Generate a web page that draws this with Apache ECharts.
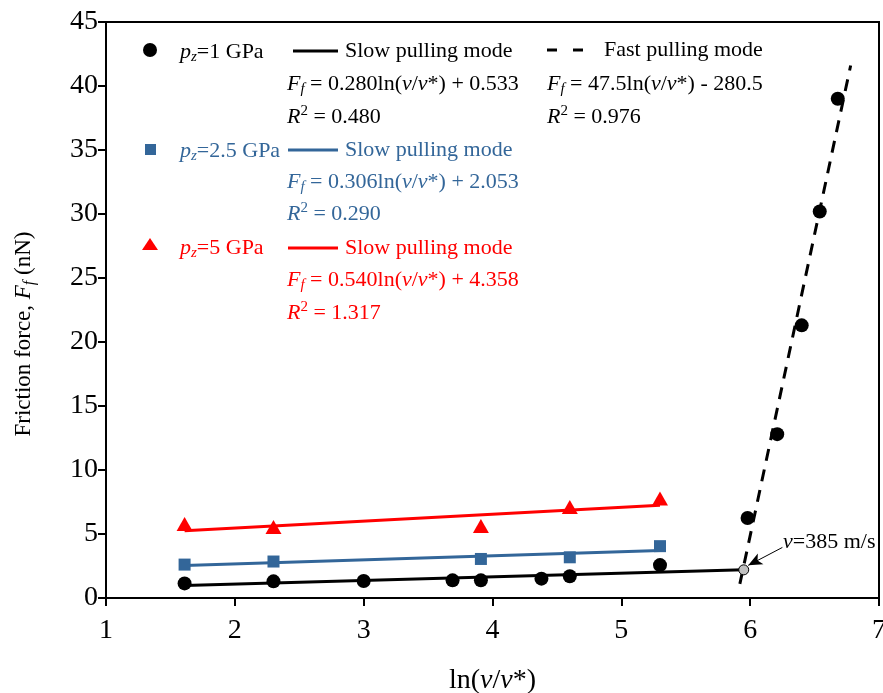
<!DOCTYPE html>
<html>
<head>
<meta charset="utf-8">
<script src="https://cdn.jsdelivr.net/npm/echarts@6/dist/echarts.min.js"></script>
<style>html,body{margin:0;padding:0;background:#fff}#c{width:883px;height:693px}</style>
</head>
<body>
<div id="c"></div>
<script>
// ---- data ----
const xSlow = [1.61, 2.30, 3.00, 3.69, 3.91, 4.38, 4.60, 5.30];
const ySlow1 = [1.14, 1.30, 1.33, 1.38, 1.38, 1.51, 1.70, 2.57];
const xFast = [5.98, 6.21, 6.40, 6.54, 6.68];
const yFast1 = [6.25, 12.8, 21.3, 30.2, 39.0];
const x25 = [1.61, 2.30, 3.91, 4.60, 5.30];
const y25 = [2.61, 2.85, 3.05, 3.18, 4.05];
const x5 = [1.61, 2.30, 3.91, 4.60, 5.30];
const y5 = [5.78, 5.55, 5.62, 7.10, 7.78];
const fitSlow1 = [[1.61, 0.98], [5.95, 2.20]];
const fitFast1 = [[5.92, 1.10], [6.78, 41.6]];
const fit25 = [[1.61, 2.54], [5.30, 3.72]];
const fit5 = [[1.61, 5.25], [5.30, 7.25]];
const transition = [[5.95, 2.20]];
const arrowFrom = [6.25, 3.95];
const arrowTo = [5.985, 2.55];
const xTicks = [1, 2, 3, 4, 5, 6, 7];
const yTicks = [0, 5, 10, 15, 20, 25, 30, 35, 40, 45];

const BLUE = '#336699';
const RED = '#ff0000';
const FONT = '"Liberation Serif", "Times New Roman", serif';

function zip(xs, ys) { return xs.map((x, i) => [x, ys[i]]); }

const chart = echarts.init(document.getElementById('c'), null, {renderer: 'canvas'});

function richSet(color, fs) {
  fs = fs || 22;
  return {
    i: {fontFamily: FONT, fontSize: fs, fontStyle: 'italic', fill: color, color: color},
    sub: {fontFamily: FONT, fontSize: 15, fontStyle: 'italic', fill: color, color: color, padding: [11, 0, 0, 0]},
    sup: {fontFamily: FONT, fontSize: 15, fill: color, color: color, padding: [0, 0, 11, 0]},
    n: {fontFamily: FONT, fontSize: fs, fill: color, color: color}
  };
}
function txt(x, y, text, color, fs) {
  return {
    type: 'text', x: x, y: y, silent: true,
    style: {text: text, rich: richSet(color, fs), font: (fs || 22) + 'px ' + FONT, fill: color,
            verticalAlign: 'middle', align: 'left'}
  };
}
function seg(x1, x2, y, color, dash) {
  return {type: 'line', silent: true, shape: {x1: x1, y1: y, x2: x2, y2: y},
          style: {stroke: color, lineWidth: 3, lineDash: dash || null}};
}

const graphics = [
  // row p=1
  {type: 'circle', shape: {cx: 150, cy: 50, r: 7}, style: {fill: '#000'}},
  txt(180, 52, '{i|p}{sub|z}{n|=1 GPa}', '#000'),
  seg(293, 338, 51, '#000'),
  txt(345, 51, '{n|Slow pulling mode}', '#000'),
  txt(287, 84, '{i|F}{sub|f}{n| = 0.280ln(}{i|v}{n|/}{i|v}{n|*) + 0.533}', '#000'),
  txt(287, 117, '{i|R}{sup|2}{n| = 0.480}', '#000'),
  seg(547, 557, 50, '#000'),
  seg(573, 583, 50, '#000'),
  txt(604, 50, '{n|Fast pulling mode}', '#000'),
  txt(547, 84, '{i|F}{sub|f}{n| = 47.5ln(}{i|v}{n|/}{i|v}{n|*) - 280.5}', '#000'),
  txt(547, 117, '{i|R}{sup|2}{n| = 0.976}', '#000'),
  // row p=2.5
  {type: 'rect', shape: {x: 145, y: 144, width: 11, height: 11}, style: {fill: BLUE}},
  txt(180, 151, '{i|p}{sub|z}{n|=2.5 GPa}', BLUE),
  seg(288, 338, 150, BLUE),
  txt(345, 150, '{n|Slow pulling mode}', BLUE),
  txt(287, 182, '{i|F}{sub|f}{n| = 0.306ln(}{i|v}{n|/}{i|v}{n|*) + 2.053}', BLUE),
  txt(287, 214, '{i|R}{sup|2}{n| = 0.290}', BLUE),
  // row p=5
  {type: 'polygon', shape: {points: [[150, 238], [142, 250], [158, 250]]}, style: {fill: RED}},
  txt(180, 248, '{i|p}{sub|z}{n|=5 GPa}', RED),
  seg(288, 338, 248, RED),
  txt(345, 248, '{n|Slow pulling mode}', RED),
  txt(287, 280, '{i|F}{sub|f}{n| = 0.540ln(}{i|v}{n|/}{i|v}{n|*) + 4.358}', RED),
  txt(287, 313, '{i|R}{sup|2}{n| = 1.317}', RED),
  // annotation
  txt(783, 542, '{i|v}{n|=385 m/s}', '#000', 22)
];

const axisCommon = {
  axisLine: {show: true, onZero: false, lineStyle: {color: '#000', width: 2}},
  axisTick: {show: true, inside: false, length: 8, lineStyle: {color: '#000', width: 2}},
  splitLine: {show: false},
  axisLabel: {color: '#000', fontFamily: FONT, fontSize: 28}
};

const option = {
  backgroundColor: '#fff',
  animation: false,
  grid: {left: 106, right: 4, top: 22, bottom: 95, show: true, borderColor: '#000', borderWidth: 2,
         containLabel: false, outerBoundsMode: 'none'},
  xAxis: Object.assign({}, axisCommon, {
    type: 'value', min: xTicks[0], max: xTicks[xTicks.length - 1], interval: 1,
    axisLabel: Object.assign({}, axisCommon.axisLabel, {margin: 19}),
    name: '{n|ln(}{i|v}{n|/}{i|v}{n|*)}', nameLocation: 'middle', nameGap: 69,
    nameTextStyle: {rich: {
      n: {fontFamily: FONT, fontSize: 28, color: '#000'},
      i: {fontFamily: FONT, fontSize: 28, fontStyle: 'italic', color: '#000'}}}
  }),
  yAxis: Object.assign({}, axisCommon, {
    type: 'value', min: yTicks[0], max: yTicks[yTicks.length - 1], interval: 5,
    axisLabel: Object.assign({}, axisCommon.axisLabel, {margin: 8}),
    name: '{n|Friction force, }{i|F}{sub|f}{n| (nN)}', nameLocation: 'middle', nameGap: 68,
    nameTextStyle: {padding: [0, 48, 0, 0], rich: {
      n: {fontFamily: FONT, fontSize: 23, color: '#000'},
      i: {fontFamily: FONT, fontSize: 23, fontStyle: 'italic', color: '#000'},
      sub: {fontFamily: FONT, fontSize: 16, fontStyle: 'italic', color: '#000', padding: [12, 0, 0, 0]}}}
  }),
  graphic: graphics,
  series: [
    {type: 'line', data: fitSlow1, symbol: 'none', lineStyle: {color: '#000', width: 3}, z: 2},
    {type: 'line', data: fitFast1, symbol: 'none', lineStyle: {color: '#000', width: 3, type: [12, 9]}, z: 2},
    {type: 'line', data: fit25, symbol: 'none', lineStyle: {color: BLUE, width: 3}, z: 2},
    {type: 'line', data: fit5, symbol: 'none', lineStyle: {color: RED, width: 3}, z: 2},
    {type: 'scatter', data: zip(xSlow, ySlow1), symbol: 'circle', symbolSize: 14, itemStyle: {color: '#000', opacity: 1}, z: 3},
    {type: 'scatter', data: zip(xFast, yFast1), symbol: 'circle', symbolSize: 14, itemStyle: {color: '#000', opacity: 1}, z: 3},
    {type: 'scatter', data: zip(x25, y25), symbol: 'rect', symbolSize: 12, itemStyle: {color: BLUE, opacity: 1}, z: 3},
    {type: 'scatter', data: zip(x5, y5), symbol: 'triangle', symbolSize: [16, 14], itemStyle: {color: RED, opacity: 1}, z: 3},
    {type: 'scatter', data: transition, symbol: 'circle', symbolSize: 10,
     itemStyle: {color: '#c0c0c0', borderColor: '#000', borderWidth: 1, opacity: 1}, z: 4,
     markLine: {silent: true, symbol: ['none', 'arrow'], symbolSize: [9, 14],
       label: {show: false}, lineStyle: {color: '#000', width: 1, type: 'solid'},
       data: [[{coord: arrowFrom}, {coord: arrowTo}]]}}
  ]
};
chart.setOption(option);
</script>
</body>
</html>
